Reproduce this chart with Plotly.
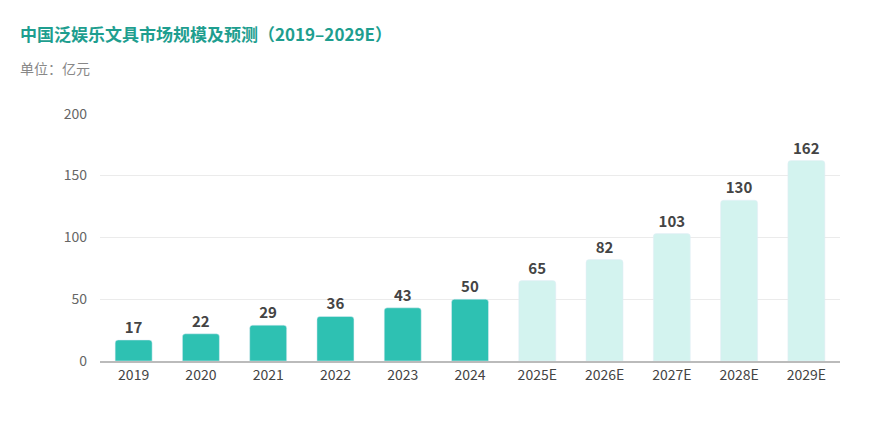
import plotly.graph_objects as go

years = ["2019", "2020", "2021", "2022", "2023", "2024",
         "2025E", "2026E", "2027E", "2028E", "2029E"]
values = [17, 22, 29, 36, 43, 50, 65, 82, 103, 130, 162]
colors = ["#2EC1B2"] * 6 + ["#D3F3EF"] * 5

fig = go.Figure(
    go.Bar(
        x=years,
        y=values,
        marker=dict(color=colors, cornerradius=3),
        width=0.55,
        text=[str(v) for v in values],
        textposition="outside",
        textfont=dict(size=15, color="#444444", family="Noto Sans CJK SC"),
        texttemplate="<b>%{text}</b>",
        cliponaxis=False,
    )
)

fig.update_layout(
    width=870,
    height=432,
    margin=dict(l=92, r=38, t=105, b=79),
    plot_bgcolor="white",
    paper_bgcolor="white",
    showlegend=False,
    font=dict(family="Noto Sans CJK SC", color="#555555", size=14),
    bargap=0.45,
)
fig.update_yaxes(
    range=[0, 200.5],
    tickvals=[0, 50, 100, 150, 200],
    gridcolor="#EBEBEB",
    zeroline=False,
    ticks="",
    ticklabelstandoff=12,
    tickfont=dict(size=14, color="#666666"),
)
fig.update_xaxes(
    showline=True,
    linecolor="#BBBBBB",
    linewidth=1.5,
    tickfont=dict(size=14, color="#444444"),
)

fig.add_annotation(
    text="<b>中国泛娱乐文具市场规模及预测（2019–2029E）</b>",
    xref="paper", yref="paper", x=-0.111, y=1.32, xanchor="left", yanchor="middle",
    showarrow=False, font=dict(size=17, color="#1E9E8F"),
)
fig.add_annotation(
    text="单位：亿元",
    xref="paper", yref="paper", x=-0.111, y=1.18, xanchor="left", yanchor="middle",
    showarrow=False, font=dict(size=14, color="#888888"),
)

fig.write_html("out.html")
